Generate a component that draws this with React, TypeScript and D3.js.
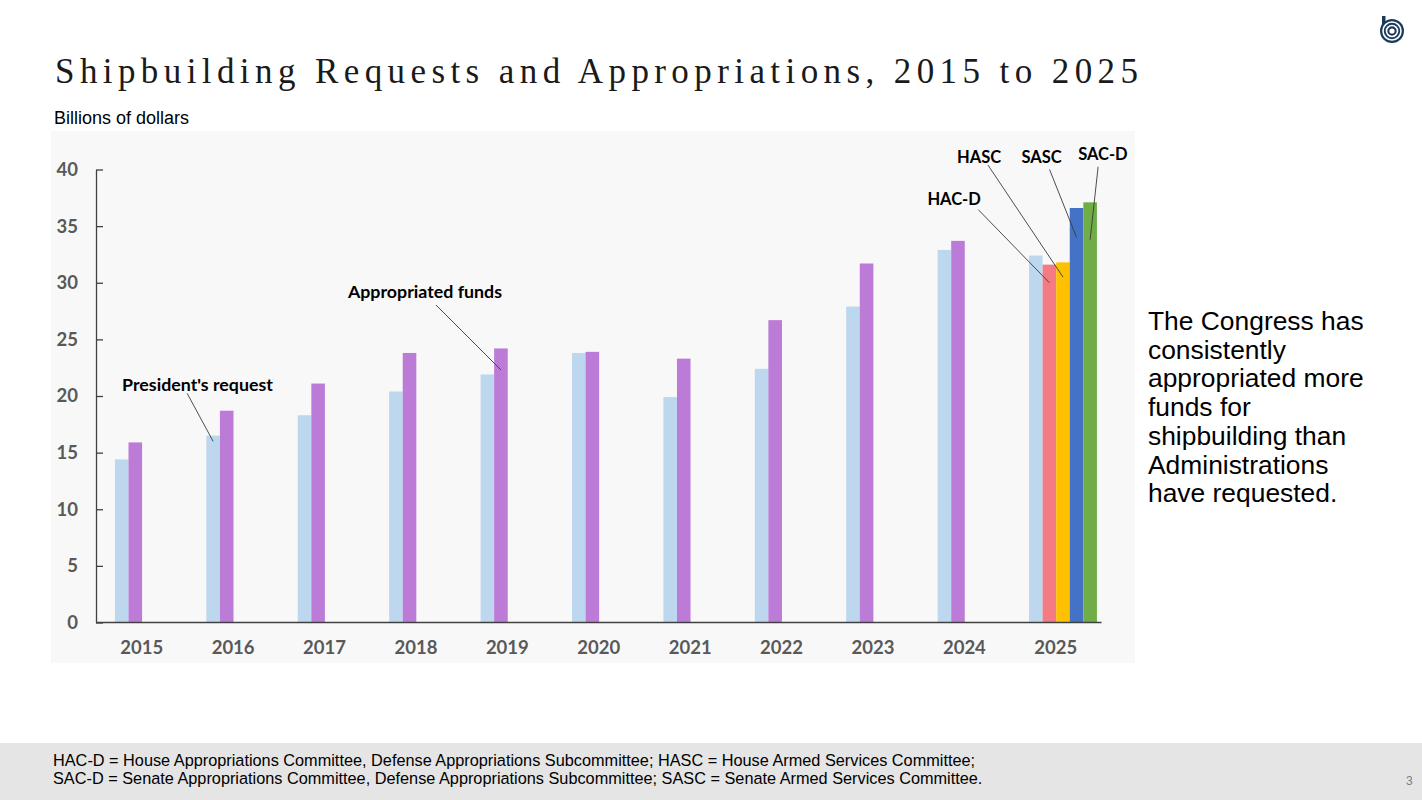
import React, { useEffect, useRef } from "react";
import * as d3 from "d3";

// Shipbuilding budget, billions of dollars
const years = ["2015", "2016", "2017", "2018", "2019", "2020", "2021", "2022", "2023", "2024", "2025"];
const requested = [14.4, 16.5, 18.3, 20.4, 21.9, 23.8, 19.9, 22.4, 27.9, 32.9, 32.4];
const appropriated = [15.9, 18.7, 21.1, 23.8, 24.2, 23.9, 23.3, 26.7, 31.7, 33.7];
const committees = ["HAC-D", "HASC", "SASC", "SAC-D"];
const committeeMarks2025 = [31.6, 31.8, 36.6, 37.1];
const yTicks = [0, 5, 10, 15, 20, 25, 30, 35, 40];

const colors: Record<string, string> = {
  request: "#bdd7ee",
  appropriated: "#bd7bd8",
  "HAC-D": "#f47b83",
  HASC: "#ffc000",
  SASC: "#4472c4",
  "SAC-D": "#70ad47",
};

// bar slots inside a year group; HAC-D sits where the enacted amount would go
const slotKeys = ["request", "appropriated", "HASC", "SASC", "SAC-D"];
const slotOf = (key: string) => (key === "HAC-D" ? "appropriated" : key);

const footnotes = [
  "HAC-D = House Appropriations Committee, Defense Appropriations Subcommittee; HASC = House Armed Services Committee;",
  "SAC-D = Senate Appropriations Committee, Defense Appropriations Subcommittee; SASC = Senate Armed Services Committee.",
];
const sideNote = [
  "The Congress has",
  "consistently",
  "appropriated more",
  "funds for",
  "shipbuilding than",
  "Administrations",
  "have requested.",
];

// callouts: target bar + value where the leader ends, offsets to line start and label
const callouts = [
  { text: "President's request", year: "2016", key: "request", at: 16.0, line: [-26, -48], label: [-91, -50], size: 17.8 },
  { text: "Appropriated funds", year: "2019", key: "appropriated", at: 22.3, line: [-65, -65], label: [-153, -72], size: 17.8 },
  { text: "HAC-D", year: "2025", key: "HAC-D", at: 30.0, line: [-71, -73], label: [-122, -78], size: 16.5 },
  { text: "HASC", year: "2025", key: "HASC", at: 30.5, line: [-75, -112], label: [-106, -114], size: 16.5 },
  { text: "SASC", year: "2025", key: "SASC", at: 34.0, line: [-27, -68], label: [-55, -74], size: 16.5 },
  { text: "SAC-D", year: "2025", key: "SAC-D", at: 33.8, line: [8, -73], label: [-12, -80], size: 16.5 },
];

const W = 1422;
const H = 800;

export default function App() {
  const ref = useRef<SVGSVGElement>(null);

  useEffect(() => {
    document.body.style.margin = "0";
    const svg = d3.select(ref.current);
    svg.selectAll("*").remove();

    svg.append("rect").attr("width", W).attr("height", H).attr("fill", "#fff");

    // title
    svg
      .append("text")
      .attr("x", 55)
      .attr("y", 83)
      .attr("textLength", 1083)
      .attr("lengthAdjust", "spacing")
      .style("font-family", "'Liberation Serif', serif")
      .style("font-size", "35px")
      .attr("fill", "#1a1a1a")
      .text("Shipbuilding Requests and Appropriations, 2015 to 2025");

    // logo
    const logo = svg.append("g").attr("transform", "translate(1392,31)");
    logo.append("rect").attr("x", -10).attr("y", -15).attr("width", 3.5).attr("height", 12).attr("fill", "#1c3b5a");
    logo.append("circle").attr("r", 12).attr("fill", "#1c3b5a");
    logo.append("circle").attr("r", 9).attr("fill", "none").attr("stroke", "#fff").attr("stroke-width", 1.6);
    logo.append("circle").attr("r", 5.5).attr("fill", "none").attr("stroke", "#fff").attr("stroke-width", 1.6);
    logo.append("circle").attr("r", 2.6).attr("fill", "#fff");

    svg
      .append("text")
      .attr("x", 54)
      .attr("y", 124)
      .style("font-family", "'Liberation Sans', Arial, sans-serif")
      .style("font-size", "18px")
      .attr("fill", "#000")
      .text("Billions of dollars");

    // chart panel
    svg.append("rect").attr("x", 51).attr("y", 131).attr("width", 1084).attr("height", 532).attr("fill", "#f8f8f8");

    const x0 = d3.scaleBand<string>().domain(years).range([96, 1101.5]);
    const bw = x0.bandwidth();
    const x1 = d3.scaleBand<string>().domain(slotKeys).range([bw * 0.207, bw * 0.95]);
    const y = d3.scaleLinear().domain([0, 40]).range([622.5, 169.5]);

    type Bar = { year: string; key: string; value: number };
    const bars: Bar[] = [];
    years.forEach((yr, i) => {
      bars.push({ year: yr, key: "request", value: requested[i] });
      if (appropriated[i] != null) bars.push({ year: yr, key: "appropriated", value: appropriated[i] });
    });
    committees.forEach((c, i) => bars.push({ year: "2025", key: c, value: committeeMarks2025[i] }));

    const barX = (d: { year: string; key: string }) => (x0(d.year) ?? 0) + (x1(slotOf(d.key)) ?? 0);

    svg
      .append("g")
      .selectAll("rect")
      .data(bars)
      .join("rect")
      .attr("x", (d) => barX(d))
      .attr("y", (d) => y(d.value))
      .attr("width", x1.bandwidth())
      .attr("height", (d) => y(0) - y(d.value))
      .attr("fill", (d) => colors[d.key]);

    const axisFont = (g: d3.Selection<SVGGElement, unknown, null, undefined>) => {
      g.selectAll("text")
        .style("font-family", "Lato, sans-serif")
        .style("font-weight", 700)
        .style("font-size", "18.5px")
        .attr("fill", "#595959");
      g.selectAll("line, path").attr("stroke", "#404040").attr("stroke-width", 1.3);
    };

    svg
      .append("g")
      .attr("transform", "translate(96,0)")
      .call(
        d3
          .axisLeft(y)
          .tickValues(yTicks)
          .tickSizeInner(-7)
          .tickSizeOuter(0)
          .tickPadding(18)
          .tickFormat(d3.format("d"))
      )
      .call(axisFont);

    const xAxis = svg
      .append("g")
      .attr("transform", `translate(0,${y(0)})`)
      .call(d3.axisBottom(x0).tickSize(0).tickPadding(18))
      .call(axisFont);
    xAxis.select(".domain").attr("d", `M96,0H1101.5`);

    // callouts
    const notes = svg.append("g");
    callouts.forEach((c) => {
      const tx = barX(c) + x1.bandwidth() / 2;
      const ty = y(c.at);
      notes
        .append("line")
        .attr("x1", tx + c.line[0])
        .attr("y1", ty + c.line[1])
        .attr("x2", tx)
        .attr("y2", ty)
        .attr("stroke", "#3a3a3a")
        .attr("stroke-width", 0.9);
      notes
        .append("text")
        .attr("x", tx + c.label[0])
        .attr("y", ty + c.label[1])
        .style("font-family", "Lato, sans-serif")
        .style("font-weight", 700)
        .style("font-size", `${c.size}px`)
        .attr("fill", "#000")
        .text(c.text);
    });

    // side note
    svg
      .append("text")
      .style("font-family", "'Liberation Sans', Arial, sans-serif")
      .style("font-size", "26.4px")
      .attr("fill", "#000")
      .selectAll("tspan")
      .data(sideNote)
      .join("tspan")
      .attr("x", 1148)
      .attr("y", (_, i) => 330 + i * 28.7)
      .text((d) => d);

    // footer band
    svg.append("rect").attr("x", 0).attr("y", 743).attr("width", W).attr("height", 57).attr("fill", "#e5e5e5");
    svg
      .append("text")
      .style("font-family", "'Liberation Sans', Arial, sans-serif")
      .style("font-size", "16.3px")
      .attr("fill", "#000")
      .selectAll("tspan")
      .data(footnotes)
      .join("tspan")
      .attr("x", 53)
      .attr("y", (_, i) => 766 + i * 18)
      .text((d) => d);
    svg
      .append("text")
      .attr("x", 1406)
      .attr("y", 785)
      .style("font-family", "'Liberation Sans', Arial, sans-serif")
      .style("font-size", "12px")
      .attr("fill", "#7f7f7f")
      .text("3");
  }, []);

  return <svg ref={ref} width={W} height={H} style={{ display: "block" }} />;
}
